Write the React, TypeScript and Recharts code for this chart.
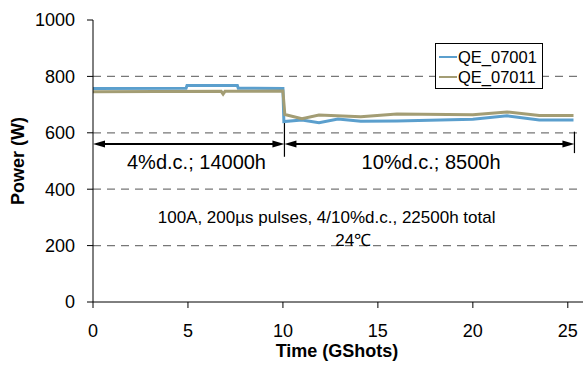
import React from 'react'
import {
  LineChart,
  Line,
  XAxis,
  YAxis,
  Legend,
  ReferenceLine,
  ReferenceDot,
} from 'recharts'

const FONT = '"Liberation Sans", Arial, sans-serif'

// QE_07001 (blue)
const BLUE_X = [0, 4.9, 4.95, 7.6, 7.65, 10.0, 10.05, 11.0, 11.9, 12.9, 14.1, 16.0, 20.0, 21.8, 23.5, 25.3]
const BLUE_P = [757, 758, 768, 768, 758, 757, 640, 645, 636, 649, 641, 642, 648, 660, 645, 645]

// QE_07011 (olive)
const OLIVE_X = [0, 6.75, 6.85, 6.95, 10.0, 10.1, 11.0, 11.9, 14.1, 16.0, 20.0, 21.8, 23.5, 25.3]
const OLIVE_P = [746, 747, 737, 747, 748, 665, 650, 663, 657, 667, 664, 674, 661, 661]

const X_TICKS = [0, 5, 10, 15, 20, 25]
const Y_TICKS = [0, 200, 400, 600, 800, 1000]
const GRID_VALUES = [200, 400, 600, 800]

const SERIES = [
  { name: 'QE_07001', color: '#5b9fcd', xs: BLUE_X, ys: BLUE_P },
  { name: 'QE_07011', color: '#a39d74', xs: OLIVE_X, ys: OLIVE_P },
]

const toRows = (xs: number[], ys: number[]) => xs.map((x, i) => ({ x, p: ys[i] }))

const ArrowShape = (props: any) => {
  const { x1, y1, x2 } = props
  const L = 12
  const H = 3.5
  return (
    <g>
      <line x1={x1 + L - 1} y1={y1} x2={x2 - L + 1} y2={y1} stroke="#000" strokeWidth={2} />
      <polygon points={`${x1},${y1} ${x1 + L},${y1 - H} ${x1 + L},${y1 + H}`} fill="#000" />
      <polygon points={`${x2},${y1} ${x2 - L},${y1 - H} ${x2 - L},${y1 + H}`} fill="#000" />
    </g>
  )
}

const LegendBox = () => (
  <div
    style={{
      border: '1px solid #000',
      background: '#fff',
      padding: '3px 5px 1px 3px',
      fontFamily: FONT,
      fontSize: 16.5,
      color: '#000',
    }}
  >
    {SERIES.map((s) => (
      <div key={s.name} style={{ display: 'flex', alignItems: 'center', height: 20 }}>
        <span style={{ display: 'inline-block', width: 18, height: 2.5, background: s.color, marginRight: 1 }} />
        <span>{s.name}</span>
      </div>
    ))}
  </div>
)

const textLabel = (value: string, size = 17) => ({
  value,
  position: 'center' as const,
  fontSize: size,
  fill: '#000',
  fontFamily: FONT,
})

export default function App() {
  return (
    <div style={{ position: 'absolute', left: 0, top: 0, background: '#fff' }}>
      <LineChart width={583} height={367} margin={{ top: 20, right: 0, bottom: 8, left: 0 }}>
        <XAxis
          dataKey="x"
          type="number"
          domain={[0, 25.8]}
          ticks={X_TICKS}
          allowDataOverflow
          height={57}
          tickSize={6}
          tickMargin={16}
          stroke="#000"
          tick={{ fill: '#000', fontSize: 18, fontFamily: FONT }}
          label={{
            content: ({ viewBox }: any) => (
              <text
                x={viewBox.x + viewBox.width / 2 - 1}
                y={viewBox.y + 55}
                textAnchor="middle"
                fontSize={18}
                fontWeight="bold"
                fontFamily={FONT}
                fill="#000"
              >
                Time (GShots)
              </text>
            ),
          }}
        />
        <YAxis
          dataKey="p"
          type="number"
          domain={[0, 1000]}
          ticks={Y_TICKS}
          width={93}
          tickSize={6}
          tickMargin={12}
          stroke="#000"
          tick={{ fill: '#000', fontSize: 18, fontFamily: FONT }}
          label={{
            content: ({ viewBox }: any) => {
              const cx = 18
              const cy = viewBox.y + viewBox.height / 2
              return (
                <text
                  x={cx}
                  y={cy}
                  transform={`rotate(-90 ${cx} ${cy})`}
                  textAnchor="middle"
                  dominantBaseline="central"
                  fontSize={18}
                  fontWeight="bold"
                  fontFamily={FONT}
                  fill="#000"
                >
                  Power (W)
                </text>
              )
            },
          }}
        />
        {GRID_VALUES.map((v) => (
          <ReferenceLine
            key={v}
            segment={[{ x: 0, y: v }, { x: 25.55, y: v }]}
            stroke="#777"
            strokeWidth={1.3}
            strokeDasharray="8 6"
          />
        ))}
        <ReferenceLine segment={[{ x: 10.08, y: 515 }, { x: 10.08, y: 640 }]} stroke="#000" strokeWidth={1.2} />
        <ReferenceLine segment={[{ x: 25.35, y: 528 }, { x: 25.35, y: 604 }]} stroke="#000" strokeWidth={1.2} />
        <ReferenceLine segment={[{ x: 0, y: 560 }, { x: 10.08, y: 560 }]} shape={ArrowShape} />
        <ReferenceLine segment={[{ x: 10.08, y: 560 }, { x: 25.35, y: 560 }]} shape={ArrowShape} />
        <ReferenceDot x={5.45} y={497} r={0} fill="none" stroke="none" label={textLabel('4%d.c.; 14000h', 20)} />
        <ReferenceDot x={17.8} y={497} r={0} fill="none" stroke="none" label={textLabel('10%d.c.; 8500h', 20)} />
        <ReferenceDot
          x={12.3}
          y={301}
          r={0}
          fill="none"
          stroke="none"
          label={textLabel('100A, 200µs pulses, 4/10%d.c., 22500h total')}
        />
        <ReferenceDot x={13.7} y={220} r={0} fill="none" stroke="none" label={textLabel('24℃')} />
        {SERIES.map((s) => (
          <Line
            key={s.name}
            data={toRows(s.xs, s.ys)}
            dataKey="p"
            name={s.name}
            type="linear"
            stroke={s.color}
            strokeWidth={3}
            dot={false}
            isAnimationActive={false}
          />
        ))}
        <Legend
          layout="vertical"
          align="center"
          verticalAlign="middle"
          content={LegendBox}
          wrapperStyle={{ left: 435, top: 43, width: 'auto', height: 'auto' }}
        />
      </LineChart>
    </div>
  )
}
